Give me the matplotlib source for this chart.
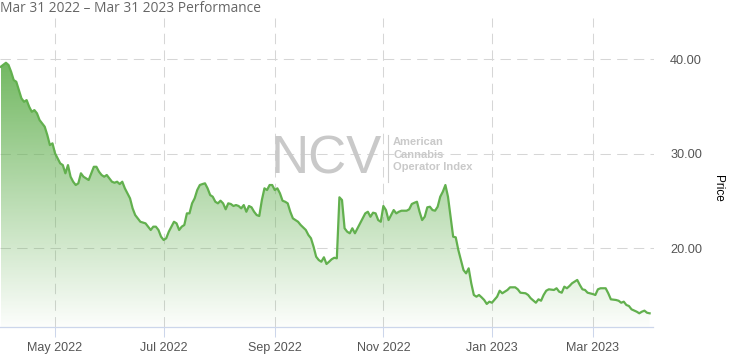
import numpy as np
import pandas as pd
import matplotlib
matplotlib.use("Agg")
import matplotlib.pyplot as plt
from matplotlib.lines import Line2D

# NYSE holidays inside the window (x axis is ordinal: one slot per trading session)
holidays = [
    "2022-04-15", "2022-05-30", "2022-06-20", "2022-07-04", "2022-09-05",
    "2022-11-24", "2022-12-26", "2023-01-02", "2023-01-16", "2023-02-20",
]
trading_days = pd.bdate_range("2022-03-31", "2023-03-31", freq="C", holidays=holidays)

# session number (index into trading_days) and closing price
session = [
    0, 2, 3, 4, 5, 6, 7, 8, 9, 10, 11, 12, 13, 14, 15, 17, 18, 19, 20, 21,
    22, 23, 24, 25, 26, 27, 28, 29, 30, 31, 32, 33, 34, 35, 36, 37, 38, 39, 40, 41,
    42, 43, 44, 45, 46, 47, 48, 49, 50, 51, 52, 53, 54, 56, 57, 58, 59, 60, 61, 62,
    63, 64, 65, 66, 67, 68, 69, 70, 71, 72, 73, 74, 75, 76, 77, 78, 79, 80, 81, 82,
    83, 84, 85, 86, 87, 88, 89, 90, 91, 92, 93, 94, 95, 96, 97, 98, 99, 100, 101, 102,
    103, 104, 105, 106, 107, 108, 109, 110, 111, 112, 113, 115, 116, 118, 119, 120, 121, 122, 123, 124,
    125, 126, 127, 128, 129, 130, 131, 132, 133, 134, 135, 136, 137, 138, 139, 140, 141, 142, 143, 144,
    145, 146, 147, 148, 149, 150, 151, 152, 153, 154, 155, 157, 158, 159, 160, 161, 162, 163, 164, 165,
    166, 167, 168, 169, 170, 171, 172, 173, 174, 175, 176, 177, 178, 179, 180, 181, 182, 183, 184, 185,
    186, 187, 188, 189, 190, 192, 193, 194, 196, 197, 199, 200, 201, 203, 204, 205, 207, 208, 209, 210,
    211, 212, 214, 215, 216, 217, 218, 219, 220, 221, 223, 224, 225, 226, 227, 229, 230, 231, 232, 234,
    235, 236, 238, 239, 240, 241, 242, 243, 244, 246, 247, 248, 249, 250, 251,
]
price = [
    39.21, 39.63, 39.39, 38.68, 37.80, 37.62, 36.74, 35.86, 35.50, 35.68, 34.97, 34.44, 34.62, 34.28, 33.57, 32.86, 31.98, 30.92, 31.10, 30.04,
    29.51, 28.98, 28.80, 27.93, 28.80, 27.57, 27.04, 26.69, 26.87, 27.93, 27.57, 27.40, 27.22, 27.93, 28.62, 28.62, 28.10, 27.75, 27.57, 27.75,
    27.40, 27.04, 26.93, 27.04, 26.79, 27.04, 26.34, 25.81, 25.28, 24.22, 23.51, 23.16, 22.80, 22.63, 22.28, 21.93, 22.28, 22.28, 21.93, 21.22,
    20.87, 21.05, 21.75, 22.28, 22.80, 22.63, 21.93, 22.28, 22.46, 23.69, 23.69, 24.75, 25.28, 26.16, 26.69, 26.79, 26.87, 26.34, 25.63, 25.45,
    24.92, 24.75, 25.03, 24.75, 24.12, 24.75, 24.68, 24.47, 24.57, 24.47, 24.22, 24.57, 23.86, 24.47, 24.33, 23.86, 23.51, 23.41, 25.10, 26.34,
    26.16, 26.69, 26.69, 26.16, 26.34, 25.81, 25.03, 24.92, 24.75, 23.86, 23.16, 22.80, 22.46, 21.93, 21.40, 21.05, 20.16, 19.10, 18.75, 18.57,
    19.04, 18.33, 18.57, 18.83, 18.99, 18.93, 25.39, 25.10, 22.11, 21.75, 21.58, 22.11, 21.58, 22.11, 22.63, 23.16, 23.69, 23.86, 23.33, 23.76,
    23.69, 22.98, 22.80, 24.47, 24.04, 22.98, 23.51, 24.04, 23.69, 23.86, 23.97, 23.97, 24.12, 24.68, 24.81, 24.92, 23.86, 22.98, 23.33, 24.33,
    24.39, 24.04, 23.97, 24.39, 25.45, 25.98, 26.69, 25.45, 23.33, 21.22, 21.15, 19.81, 18.75, 17.69, 17.34, 17.87, 16.29, 15.05, 14.87, 15.05,
    14.80, 14.52, 14.10, 14.34, 14.23, 14.87, 15.50, 15.23, 15.58, 15.86, 15.86, 15.65, 15.29, 15.23, 15.05, 14.70, 14.23, 14.59, 14.44, 15.05,
    15.50, 15.65, 15.58, 15.76, 15.40, 15.29, 15.93, 15.76, 16.00, 16.29, 16.64, 16.11, 15.65, 15.58, 15.29, 15.15, 15.05, 15.65, 15.76, 15.76,
    15.23, 14.59, 14.52, 14.44, 14.23, 14.34, 13.99, 13.88, 13.53, 13.28, 13.11, 13.28, 13.39, 13.17, 13.11,
]

tick_months = ["2022-05", "2022-07", "2022-09", "2022-11", "2023-01", "2023-03"]
y_ticks = [20, 30, 40]
title = "Mar 31 2022 \u2013 Mar 31 2023 Performance"

x = np.array(session)
y = np.array(price)

W, H = 731, 360
fig = plt.figure(figsize=(W / 100, H / 100), dpi=100)
ax = fig.add_axes([0, 33 / H, 653.5 / W, 309 / H])
ymin, ymax = 11.66, 44.37

# first trading session of each labelled month
month_of = trading_days.strftime("%Y-%m")
tick_pos = [int(np.argmax(month_of == m)) for m in tick_months]
tick_lab = [trading_days[i].strftime("%b %Y") for i in tick_pos]

grid_kw = dict(color="#d6d6d6", lw=0.75, linestyle=(0, (10, 6)), zorder=1)
for t in y_ticks:
    ax.axhline(t, **grid_kw)
for p in tick_pos:
    ax.axvline(p, **grid_kw)

# gradient area under the line
green = np.array([0.40, 0.70, 0.33])
grad = np.zeros((256, 1, 4))
grad[:, 0, :3] = green
grad[:, 0, 3] = np.linspace(0.92, 0.02, 256)
poly = ax.fill_between(x, y, ymin, facecolor="none", edgecolor="none")
im = ax.imshow(grad, extent=[x.min(), x.max(), ymin, y.max()], aspect="auto",
               origin="upper", zorder=2)
im.set_clip_path(poly.get_paths()[0], transform=ax.transData)
ax.set_xlim(-0.3, 252.5)
ax.set_ylim(ymin, ymax)

ax.plot(x, y, color="#62b04e", lw=1.6, zorder=3, solid_joinstyle="round")

for s in ["top", "left", "right"]:
    ax.spines[s].set_visible(False)
ax.spines["bottom"].set_color("#ccd6eb")
ax.spines["bottom"].set_linewidth(0.9)

ax.set_xticks(tick_pos)
ax.set_xticklabels(tick_lab, fontsize=9, color="#555555", family="Liberation Sans")
ax.tick_params(axis="x", length=7.2, width=0.75, color="#ccd6eb", pad=3.6)

ax.yaxis.tick_right()
ax.set_yticks(y_ticks)
ax.set_yticklabels(["%.2f" % t for t in y_ticks], fontsize=9.2, color="#555555",
                   family="Liberation Sans")
ax.tick_params(axis="y", length=0, pad=12)
ax.patch.set_alpha(0)

# title and axis title
fig.text(0.5 / W, 1 - 12 / H, title, fontsize=9.9, color="#666666",
         family="Open Sans", va="baseline", ha="left")
fig.text(718 / W, 1 - 188 / H, "Price", rotation=270, fontsize=8.5, color="black",
         family="Liberation Sans", va="center", ha="center")

# watermark
wm = "#c9c9c9"
fig.text(271 / W, 1 - 173 / H, "NCV", fontsize=38, color=wm, family="Liberation Sans",
         va="baseline", ha="left", zorder=0)
fig.add_artist(Line2D([388 / W, 388 / W], [1 - 135 / H, 1 - 182 / H], color="#cfcfcf", lw=0.8))
for i, line in enumerate(["American", "Cannabis", "Operator Index"]):
    fig.text(393 / W, 1 - (142 + 12.5 * i) / H, line, fontsize=8, color=wm,
             fontweight="bold", family="Liberation Sans", va="center", ha="left")

fig.savefig("out.png", dpi=100)
